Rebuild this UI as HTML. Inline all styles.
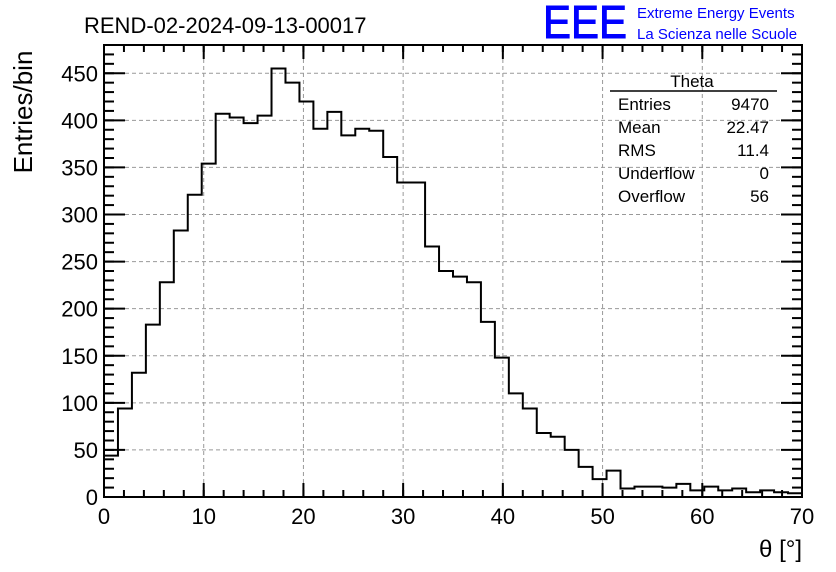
<!DOCTYPE html>
<html><head><meta charset="utf-8"><style>
body{margin:0;background:#fff;font-family:"Liberation Sans",sans-serif}
svg{display:block}
</style></head><body>
<svg id="c" width="836" height="572" font-family="Liberation Sans, sans-serif">
<rect width="836" height="572" fill="#fff"/>
<text x="84" y="33" font-size="22">REND-02-2024-09-13-00017</text>
<text x="543" y="38" font-size="46" fill="#0000ff" stroke="#0000ff" stroke-width="1" textLength="84" lengthAdjust="spacingAndGlyphs">EEE</text>
<text x="637" y="18" font-size="15" fill="#0000ff">Extreme Energy Events</text>
<text x="637" y="39" font-size="15" fill="#0000ff">La Scienza nelle Scuole</text>
<g id="grid"></g><g id="axes"></g>
<path id="hist" fill="none" stroke="#000" stroke-width="2"/>
<rect x="104" y="45" width="698" height="452" fill="none" stroke="#000" stroke-width="2"/>
<text x="32" y="112" font-size="26" transform="rotate(-90 32 112)" text-anchor="middle">Entries/bin</text>
<text x="802" y="557" font-size="24" text-anchor="end">θ [°]</text>
<g font-size="17">
<text x="692" y="87" text-anchor="middle">Theta</text>
<line x1="610" y1="91" x2="777" y2="91" stroke="#000" stroke-width="1.5"/>
<text x="618" y="110">Entries</text><text x="769" y="110" text-anchor="end">9470</text>
<text x="618" y="133">Mean</text><text x="769" y="133" text-anchor="end">22.47</text>
<text x="618" y="156">RMS</text><text x="769" y="156" text-anchor="end">11.4</text>
<text x="618" y="179">Underflow</text><text x="769" y="179" text-anchor="end">0</text>
<text x="618" y="202">Overflow</text><text x="769" y="202" text-anchor="end">56</text>
</g>
</svg>
<script>
const counts=[44,94,132,183,228,283,321,354,407,403,397,405,455,440,420,391,409,384,391,389,361,334,334,266,240,234,228,186,148,110,94,68,64,50,32,19,28,9,11,11,10,14,7,11,7,9,5,7,5,4];
const xMin=0,xMax=70,yMin=0,yMax=480;
const xTicks=[0,10,20,30,40,50,60,70];
const yTicks=[0,50,100,150,200,250,300,350,400,450];
const L=104,R=802,T=45,B=497;
const sx=v=>L+(v-xMin)/(xMax-xMin)*(R-L);
const sy=v=>B-(v-yMin)/(yMax-yMin)*(B-T);
const NS="http://www.w3.org/2000/svg";
const grid=document.getElementById('grid'),axes=document.getElementById('axes');
function mk(tag,attrs,parent){const e=document.createElementNS(NS,tag);for(const k in attrs)e.setAttribute(k,attrs[k]);parent.appendChild(e);return e;}
xTicks.forEach(t=>{
 const x=sx(t);
 if(t>xMin&&t<xMax){const g=mk('line',{x1:x,x2:x,y1:T,y2:B,stroke:'#999','stroke-dasharray':'4,3'},grid);
 
 }
 mk('line',{x1:x,x2:x,y1:B,y2:B-14,stroke:'#000','stroke-width':2},axes);
 mk('line',{x1:x,x2:x,y1:T,y2:T+14,stroke:'#000','stroke-width':2},axes);
 const tx=mk('text',{x:x,y:B+27,'font-size':22,'text-anchor':'middle'},axes);
 tx.textContent=t;
 
 
});
for(let v=xMin;v<=xMax;v+=2){const x=sx(v);
 mk('line',{x1:x,x2:x,y1:B,y2:B-7,stroke:'#000','stroke-width':2},axes);
 mk('line',{x1:x,x2:x,y1:T,y2:T+7,stroke:'#000','stroke-width':2},axes);}
yTicks.forEach(t=>{
 const y=sy(t);
 if(t>yMin){const g=mk('line',{x1:L,x2:R,y1:y,y2:y,stroke:'#999','stroke-dasharray':'4,3'},grid);
 
 }
 mk('line',{x1:L,x2:L+21,y1:y,y2:y,stroke:'#000','stroke-width':2},axes);
 mk('line',{x1:R,x2:R-21,y1:y,y2:y,stroke:'#000','stroke-width':2},axes);
 const tx=mk('text',{x:L-6,y:y+8,'font-size':22,'text-anchor':'end'},axes);
 tx.textContent=t;
 
 
});
for(let v=yMin;v<=yMax;v+=10){const y=sy(v);
 mk('line',{x1:L,x2:L+10,y1:y,y2:y,stroke:'#000','stroke-width':2},axes);
 mk('line',{x1:R,x2:R-10,y1:y,y2:y,stroke:'#000','stroke-width':2},axes);}
const bw=(xMax-xMin)/counts.length;
let d='M'+sx(xMin)+','+sy(0);
counts.forEach((c,i)=>{const y=sy(c);d+=' L'+sx(xMin+i*bw)+','+y+' L'+sx(xMin+(i+1)*bw)+','+y;});
d+=' L'+sx(xMax)+','+sy(0);
document.getElementById('hist').setAttribute('d',d);
</script>
</body></html>
